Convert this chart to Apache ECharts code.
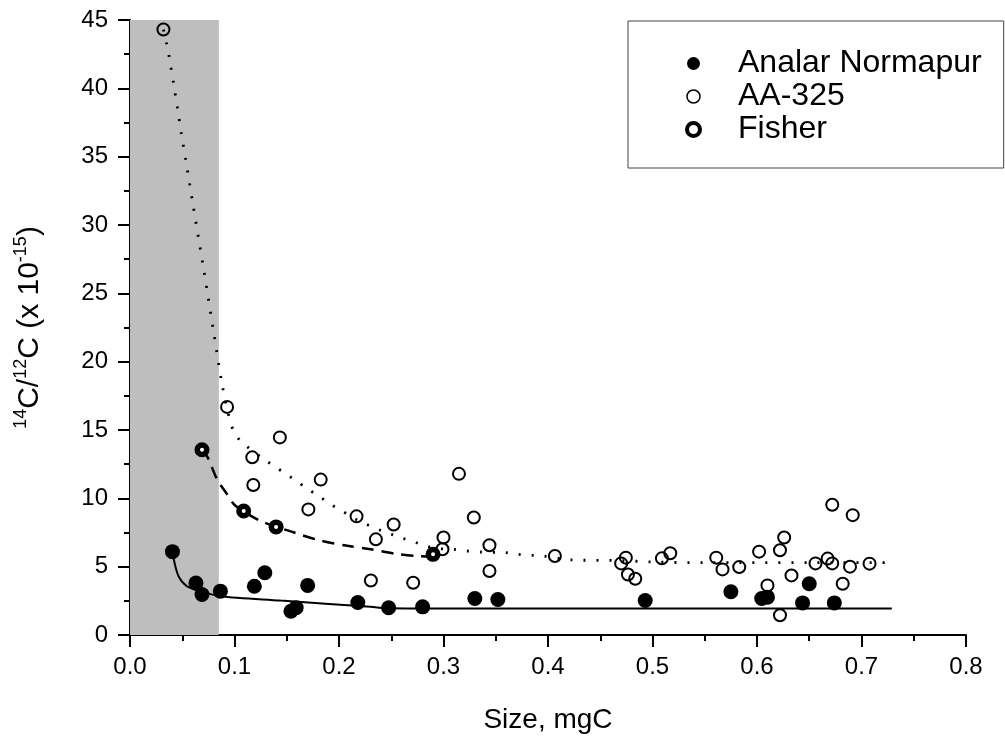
<!DOCTYPE html>
<html>
<head>
<meta charset="utf-8">
<script src="https://cdn.jsdelivr.net/npm/echarts@6/dist/echarts.min.js"></script>
<style>
  html, body { margin: 0; padding: 0; background: #fff; }
  #chart { width: 1005px; height: 737px; }
</style>
</head>
<body>
<div id="chart"></div>
<script>
// 测量点 [size mgC, 14C/12C x1e-15]
let analarPts = [
	[0.0406, 6.10], [0.0631, 3.80], [0.0689, 2.96], [0.0865, 3.21], [0.119, 3.57],
	[0.129, 4.56], [0.154, 1.74], [0.159, 2.00], [0.170, 3.63], [0.218, 2.38],
	[0.2475, 1.99], [0.280, 2.06], [0.330, 2.67], [0.352, 2.60], [0.493, 2.52],
	[0.575, 3.16], [0.6045, 2.67], [0.610, 2.77], [0.6436, 2.35], [0.650, 3.75],
	[0.674, 2.35]
];
let aa325Pts = [
	[0.032, 44.3], [0.0929, 16.69], [0.1434, 14.46], [0.117, 13.0], [0.118, 10.98],
	[0.1825, 11.37], [0.1707, 9.19], [0.2168, 8.68], [0.2305, 3.99], [0.2523, 8.09],
	[0.2353, 7.0], [0.3148, 11.79], [0.329, 8.6], [0.300, 7.13], [0.299, 6.27],
	[0.344, 6.57], [0.344, 4.68], [0.4066, 5.78], [0.271, 3.82], [0.4745, 5.66],
	[0.470, 5.24], [0.4765, 4.43], [0.4835, 4.12], [0.509, 5.61], [0.517, 5.98],
	[0.561, 5.66], [0.567, 4.8], [0.583, 4.97], [0.602, 6.10], [0.622, 6.2],
	[0.626, 7.13], [0.610, 3.63], [0.622, 1.44], [0.633, 4.36], [0.656, 5.24],
	[0.6676, 5.59], [0.672, 5.24], [0.672, 9.53], [0.6916, 8.77], [0.682, 3.75],
	[0.689, 5.0], [0.7077, 5.22]
];
let fisherPts = [[0.0689, 13.55], [0.1088, 9.07], [0.1398, 7.91], [0.290, 5.9]];

// 拟合曲线
let analarFit = [
	[0.0416, 5.66], [0.0464, 4.31], [0.0545, 3.57], [0.0672, 3.2], [0.0865, 2.84],
	[0.144, 2.52], [0.23, 2.06], [0.25, 1.95], [0.3, 1.93], [0.729, 1.93]
];
let aa325Fit = [
	[0.032, 44.3], [0.0352, 43.2], [0.0375, 42.3], [0.0416, 40.4], [0.0455, 38.5],
	[0.0493, 36.6], [0.0535, 34.7], [0.0596, 31.8], [0.07, 27.0], [0.08, 22.2],
	[0.088, 18.4], [0.094, 16.2], [0.0993, 14.9], [0.107, 14.1], [0.1275, 12.9],
	[0.138, 12.35], [0.149, 11.8], [0.1586, 11.3], [0.1697, 10.7], [0.181, 10.15],
	[0.1915, 9.58], [0.2017, 9.14], [0.213, 8.6], [0.224, 8.18], [0.237, 7.74],
	[0.248, 7.43], [0.259, 7.13], [0.272, 6.81], [0.283, 6.51], [0.296, 6.32],
	[0.309, 6.27], [0.322, 6.15], [0.336, 6.07], [0.3586, 6.03], [0.371, 5.9],
	[0.384, 5.83], [0.395, 5.78], [0.4227, 5.49], [0.47, 5.45], [0.5, 5.34],
	[0.55, 5.29], [0.725, 5.29]
];
let fisherFit = [
	[0.069, 13.55], [0.0743, 13.0], [0.0833, 11.4], [0.0929, 10.3], [0.1009, 9.46],
	[0.1249, 8.35], [0.157, 7.5], [0.1825, 6.9], [0.208, 6.53], [0.2305, 6.27],
	[0.253, 5.96], [0.2754, 5.78], [0.29, 5.75]
];
let shadeRange = [0, 0.085];		//灰色区域
let seriesNames = ['Analar Normapur', 'AA-325', 'Fisher'];

let fontName = '"Liberation Sans", Arial, sans-serif';
let axisCommon = {
	axisLine: { show: true, onZero: false, lineStyle: { color: '#000', width: 2 } },
	axisTick: { show: true, length: 12, lineStyle: { color: '#000', width: 2 } },
	minorTick: { show: true, splitNumber: 2, length: 6, lineStyle: { color: '#000', width: 2 } },
	splitLine: { show: false },
	axisLabel: { color: '#000', fontSize: 24, fontFamily: fontName }
};

let chart = echarts.init(document.getElementById('chart'));
let option = {
	animation: false,
	grid: { left: 130, right: 39, top: 20, bottom: 102, outerBoundsMode: 'none', containLabel: false },
	legend: {
		orient: 'vertical',
		left: 628,
		top: 21,
		padding: [26, 22, 22, 57],
		itemGap: 0,
		itemWidth: 13,
		itemHeight: 13,
		icon: 'circle',
		borderColor: '#444',
		borderWidth: 1,
		textStyle: { color: '#000', fontSize: 32, fontFamily: fontName, padding: [0, 0, 0, 33], lineHeight: 33 },
		data: [
			{ name: seriesNames[0], itemStyle: { color: '#000', borderWidth: 0 } },
			{ name: seriesNames[1], itemStyle: { color: '#fff', borderColor: '#000', borderWidth: 1.5 } },
			{ name: seriesNames[2], itemStyle: { color: '#fff', borderColor: '#000', borderWidth: 4 } }
		]
	},
	xAxis: Object.assign({}, axisCommon, {
		type: 'value', min: 0, max: 0.8, interval: 0.1,
		name: 'Size, mgC', nameLocation: 'middle', nameGap: 71,
		nameTextStyle: { color: '#000', fontSize: 28, fontFamily: fontName },
		axisLabel: Object.assign({}, axisCommon.axisLabel, { margin: 20, formatter: v => v.toFixed(1) })
	}),
	yAxis: Object.assign({}, axisCommon, {
		type: 'value', min: 0, max: 45, interval: 5,
		name: '{sup|14}C/{sup|12}C (x 10{sup|-15})', nameLocation: 'middle', nameGap: 82, nameRotate: 90,
		nameTextStyle: {
			color: '#000', fontSize: 30, fontFamily: fontName, lineHeight: 36, verticalAlign: 'bottom',
			rich: { sup: { fontSize: 18, fontFamily: fontName, color: '#000', verticalAlign: 'top', lineHeight: 36 } }
		},
		axisLabel: Object.assign({}, axisCommon.axisLabel, { margin: 22 })
	}),
	series: [
		{
			type: 'line', data: [], z: 0, silent: true,
			markArea: {
				silent: true,
				itemStyle: { color: '#bebebe' },
				data: [[{ xAxis: shadeRange[0] }, { xAxis: shadeRange[1] }]]
			}
		},
		{ type: 'line', data: analarFit, symbol: 'none', smooth: 0.3, z: 2, silent: true,
			lineStyle: { color: '#000', width: 2 } },
		{ type: 'line', data: aa325Fit, symbol: 'none', smooth: 0.3, z: 2, silent: true,
			lineStyle: { color: '#000', width: 2.8, type: [2, 11] } },
		{ type: 'line', data: fisherFit, symbol: 'none', smooth: 0.3, z: 2, silent: true,
			lineStyle: { color: '#000', width: 2.5, type: [12, 8] } },
		{ name: seriesNames[0], type: 'scatter', data: analarPts, symbolSize: 15, z: 3,
			itemStyle: { color: '#000', opacity: 1 } },
		{ name: seriesNames[1], type: 'scatter', data: aa325Pts, symbolSize: 12, z: 3,
			itemStyle: { color: 'rgba(255,255,255,0)', borderColor: '#000', borderWidth: 2, opacity: 1 } },
		{ name: seriesNames[2], type: 'scatter', data: fisherPts, symbolSize: 9.5, z: 4,
			itemStyle: { color: '#fff', borderColor: '#000', borderWidth: 5.5, opacity: 1 } }
	]
};
chart.setOption(option);
</script>
</body>
</html>
